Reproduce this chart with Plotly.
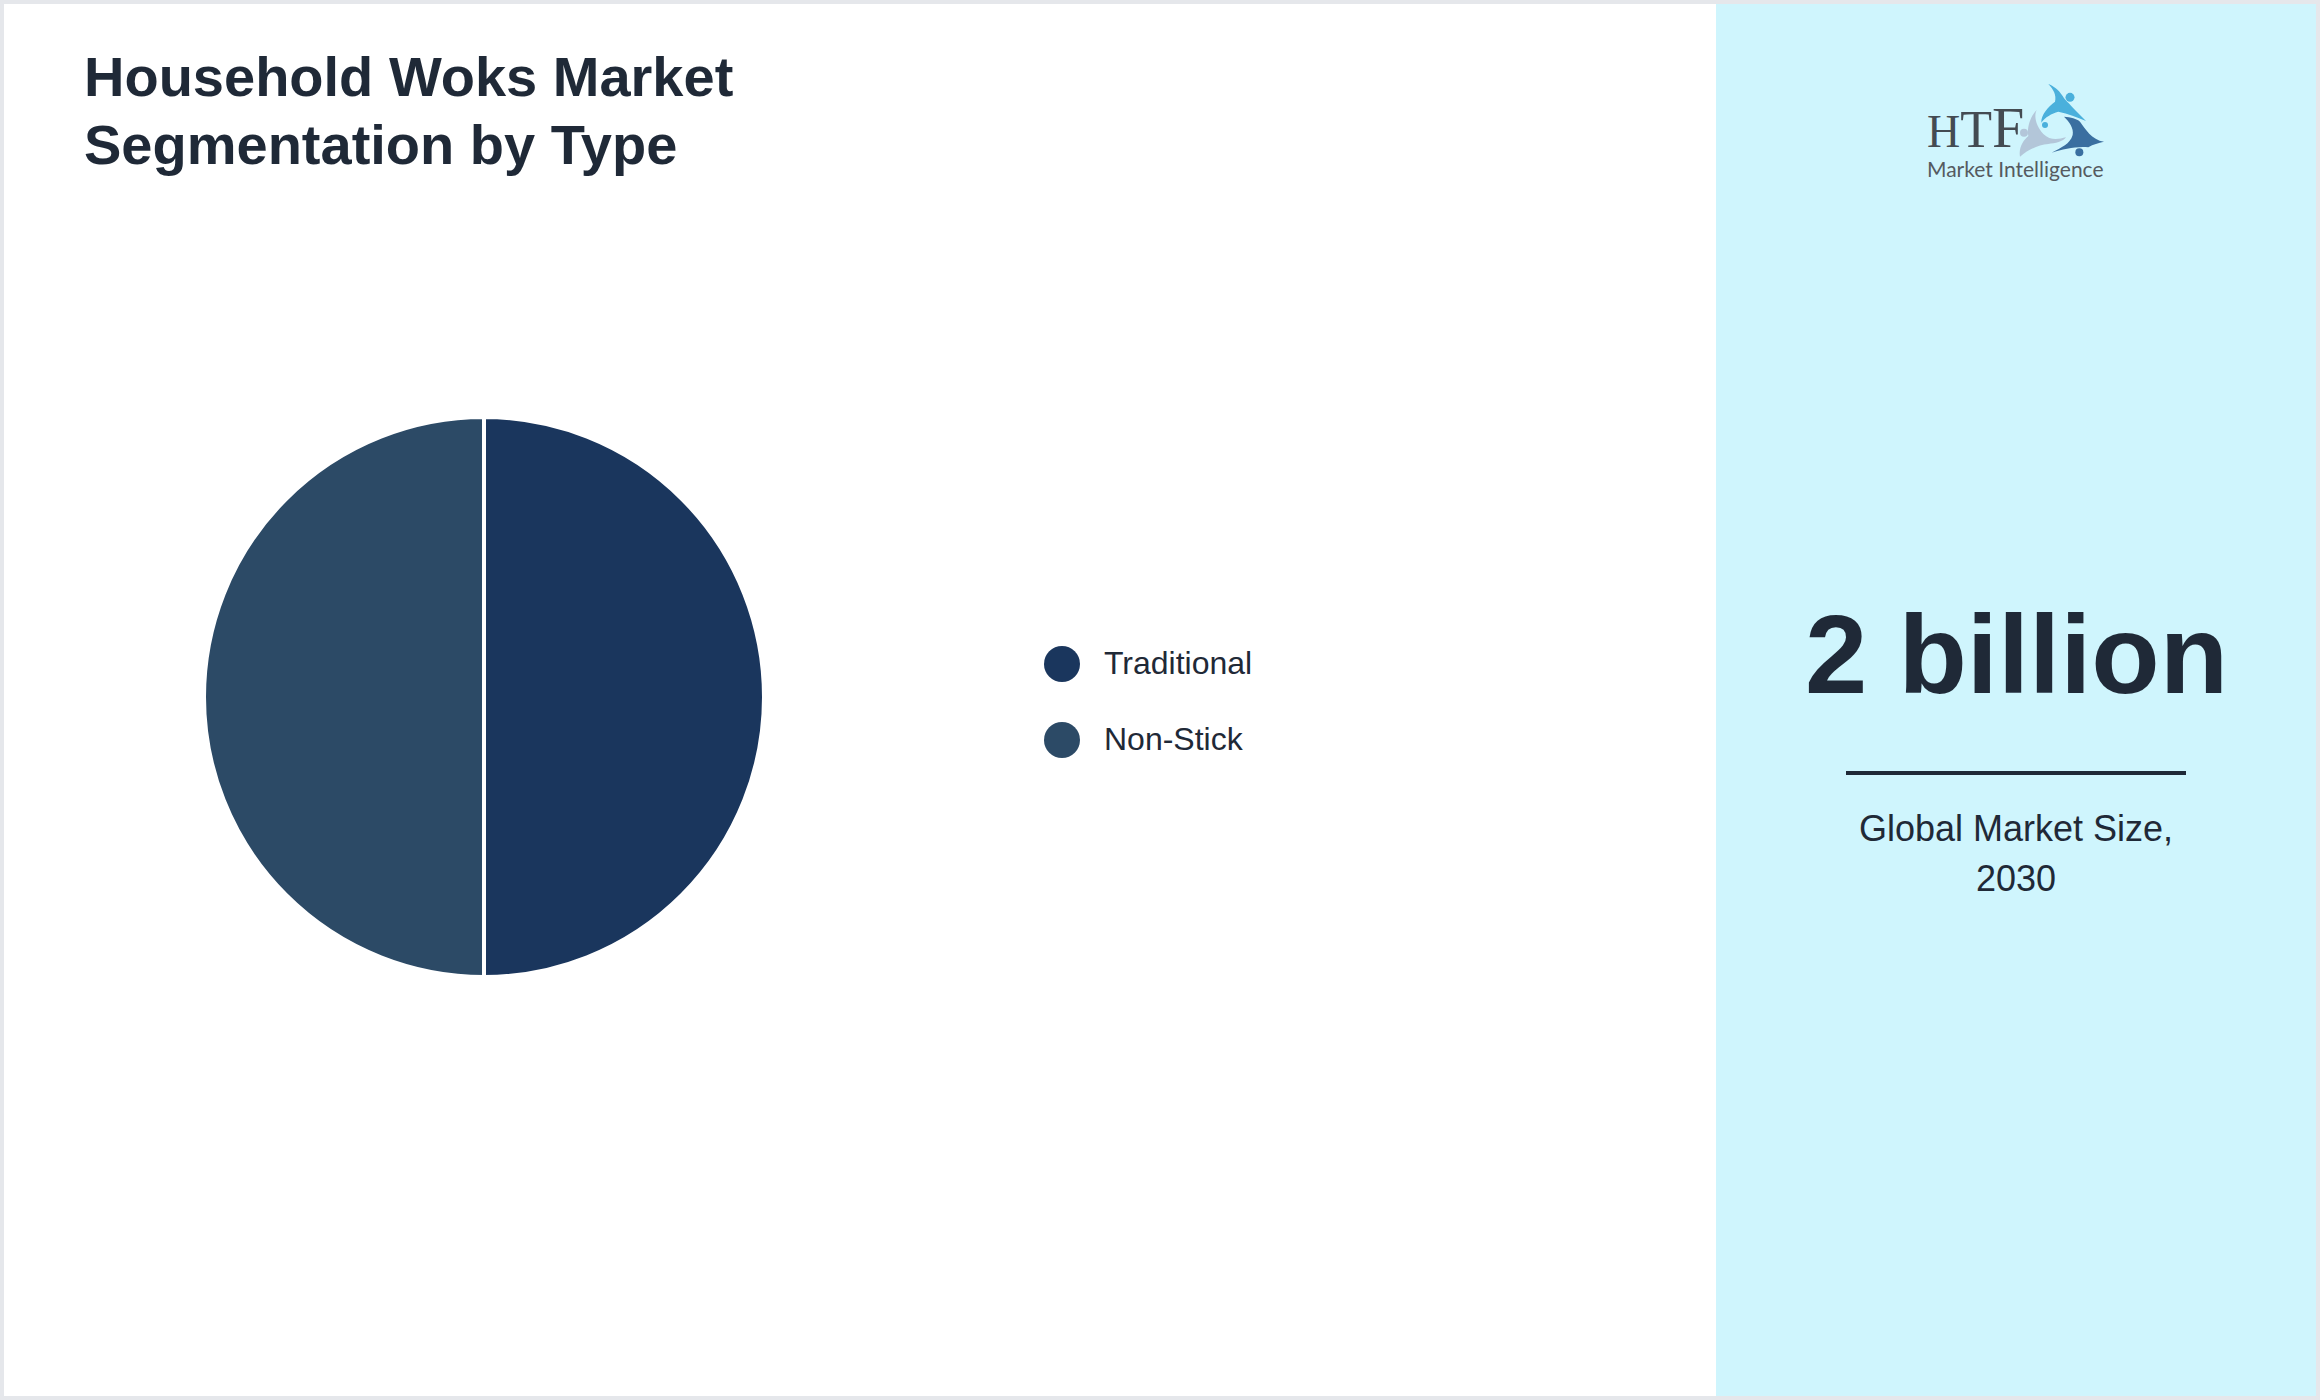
import plotly.graph_objects as go

W = 2320
H = 1400

title_lines = ['Household Woks Market', 'Segmentation by Type']
types = ['Traditional', 'Non-Stick']
shares = [50, 50]
type_colors = ['#1a365d', '#2c4a66']
big_number = '2 billion'
caption_lines = ['Global Market Size,', '2030']

TEXT = '#1f2937'
FONT = 'Liberation Sans'


def fx(x):
    return x / W


def fy(y):
    return 1 - y / H


def label(x, y, text, size, bold=False, anchor='left', color=TEXT, family=FONT):
    if bold:
        text = '<b>' + text + '</b>'
    return dict(x=fx(x), y=fy(y), xref='paper', yref='paper', text=text, showarrow=False,
                xanchor=anchor, yanchor='middle', borderpad=0,
                font=dict(size=size, color=color, family=family))


def circle(cx, cy, r, color):
    return dict(type='circle', xref='paper', yref='paper', x0=fx(cx - r), x1=fx(cx + r),
                y0=fy(cy + r), y1=fy(cy - r), fillcolor=color, line_width=0, layer='above')


# logo swooshes, coordinates measured on a 3x crop starting at (1880, 60)
def logo_xy(x, y):
    return fx(1880 + x / 3), fy(60 + y / 3)


def logo_path(segments, color):
    parts = []
    for cmd, pts in segments:
        coords = [logo_xy(*p) for p in pts]
        parts.append(cmd + ' '.join(f'{a:.5f},{b:.5f}' for a, b in coords))
    return dict(type='path', xref='paper', yref='paper', path=' '.join(parts) + ' Z',
                fillcolor=color, line_width=0, layer='above')


swoosh_light = [('M', [(505, 72)]), ('C', [(520, 78), (535, 88), (548, 108)]),
                ('C', [(556, 122), (568, 130), (585, 150)]), ('L', [(618, 183)]),
                ('C', [(590, 172), (565, 160), (535, 155)]), ('C', [(515, 160), (495, 172), (484, 188)]),
                ('C', [(482, 165), (505, 140), (525, 125)]), ('C', [(530, 105), (520, 88), (505, 72)])]
swoosh_grey = [('M', [(470, 150)]), ('C', [(460, 170), (470, 200), (490, 222)]),
               ('C', [(510, 242), (535, 238), (558, 232)]), ('C', [(550, 245), (525, 250), (505, 252)]),
               ('C', [(475, 255), (445, 268), (420, 290)]), ('C', [(415, 265), (430, 240), (445, 228)]),
               ('C', [(440, 205), (450, 170), (470, 150)])]
swoosh_dark = [('M', [(552, 170)]), ('C', [(572, 172), (590, 175), (600, 185)]),
               ('C', [(615, 205), (635, 240), (672, 245)]), ('C', [(655, 250), (640, 252), (625, 262)]),
               ('C', [(590, 258), (550, 268), (515, 278)]), ('C', [(545, 262), (570, 252), (578, 225)]),
               ('C', [(582, 205), (568, 185), (552, 170)])]

# letters of the logo grow left to right, one text so they sit side by side
logo_letters = ('<span style="font-size:46px">H</span>'
                '<span style="font-size:52px">T</span>'
                '<span style="font-size:58px">F</span>')

fig = go.Figure()
fig.add_trace(go.Pie(
    labels=types,
    values=shares,
    sort=False,
    direction='clockwise',
    rotation=0,
    textinfo='none',
    hoverinfo='label+percent',
    showlegend=False,
    marker=dict(colors=type_colors, line=dict(color='#ffffff', width=4)),
    domain=dict(x=[fx(204), fx(764)], y=[fy(977), fy(417)]),
))

shapes = [
    # white card and cyan side panel inside the grey border
    dict(type='rect', xref='paper', yref='paper', x0=fx(4), x1=fx(1716), y0=fy(1396), y1=fy(4),
         fillcolor='#ffffff', line_width=0, layer='below'),
    dict(type='rect', xref='paper', yref='paper', x0=fx(1716), x1=fx(2316), y0=fy(1396), y1=fy(4),
         fillcolor='#cff5fd', line_width=0, layer='below'),
    # divider
    dict(type='rect', xref='paper', yref='paper', x0=fx(1846), x1=fx(2186), y0=fy(775), y1=fy(771),
         fillcolor=TEXT, line_width=0, layer='above'),
    # legend dots
    circle(1062, 664, 18, type_colors[0]),
    circle(1062, 740, 18, type_colors[1]),
    # logo
    logo_path(swoosh_light, '#4ab0dc'),
    logo_path(swoosh_grey, '#b3c6d9'),
    logo_path(swoosh_dark, '#3a6fa0'),
    circle(1880 + 570 / 3, 60 + 112 / 3, 4.5, '#4ab0dc'),
    circle(1880 + 495 / 3, 60 + 195 / 3, 3, '#4ab0dc'),
    circle(1880 + 432 / 3, 60 + 218 / 3, 4, '#b3c6d9'),
    circle(1880 + 598 / 3, 60 + 277 / 3, 4, '#3a6fa0'),
]

annotations = [
    label(83, 76.5, title_lines[0], 56, bold=True),
    label(83, 145, title_lines[1], 56, bold=True),
    label(1103, 662.5, types[0], 32),
    label(1103, 738.5, types[1], 32),
    label(2016, 654.5, big_number, 112, bold=True, anchor='center'),
    label(2016, 828.5, caption_lines[0], 36, anchor='center'),
    label(2016, 878, caption_lines[1], 36, anchor='center'),
    # logo lettering
    label(1926, 127, logo_letters, 46, color='#444b52', family='Liberation Serif'),
    label(1926, 168, 'Market Intelligence', 21, color='#555a60', family='Lato'),
]

fig.update_layout(
    width=W,
    height=H,
    margin=dict(l=0, r=0, t=0, b=0),
    paper_bgcolor='#e5e7eb',
    plot_bgcolor='#ffffff',
    shapes=shapes,
    annotations=annotations,
)

fig.write_html("out.html", config=dict(displayModeBar=False),
               post_script="document.body.style.margin='0';")
